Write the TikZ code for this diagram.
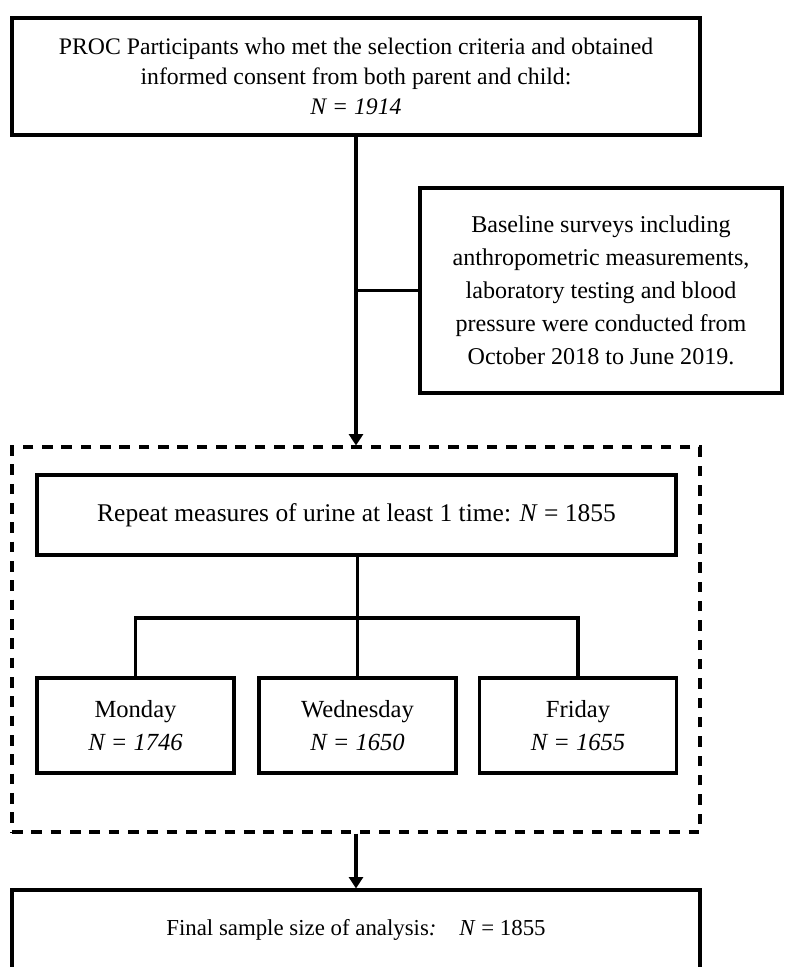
\documentclass[tikz,border=0pt]{standalone}
\usepackage{fontspec}
\setmainfont{Liberation Serif}
\usetikzlibrary{arrows.meta, positioning}

\begin{document}
\begin{tikzpicture}[
    x=0.02cm, y=-0.02cm,
    base/.style={rectangle, draw, line width=1.8pt, align=center, inner sep=0pt, font=\fontsize{13.5}{17}\selectfont},
    wide/.style={base, minimum width=13.76cm, minimum height=1.6cm},
    side/.style={base, minimum width=7.24cm, minimum height=4.1cm, font=\fontsize{13.7}{18.7}\selectfont},
    day/.style={base, minimum width=3.94cm, minimum height=1.9cm, font=\fontsize{14}{19}\selectfont},
    % dashed frame round the repeat measures
    group/.style={rectangle, draw, line width=1.8pt, dash pattern=on 6pt off 5pt, minimum width=13.76cm, minimum height=7.7cm},
    conn/.style={line width=1.8pt},
    arrow/.style={conn, -{Triangle[length=6.5pt, width=8pt]}}
]
    \clip (0,0) rectangle (787,967);

    % --- Nodes ---
    \node[wide, minimum height=2.34cm] (proc) at (356,76.5) {PROC Participants who met the selection criteria and obtained\\ informed consent from both parent and child:\\ \textit{N = 1914}};

    \node[side] (base) at (601,290.5) {Baseline surveys including\\ anthropometric measurements,\\ laboratory testing and blood\\ pressure were conducted from\\ October 2018 to June 2019.};

    \node[group] (grp) at (356,639.5) {};

    \node[wide, minimum width=12.78cm, font=\fontsize{14.5}{17}\selectfont] (repeat) at (356.5,515) {Repeat measures of urine at least 1 time: \textit{N} = 1855};

    % Days
    \node[day] (mon) at (135.5,725.5) {Monday\\ \textit{N = 1746}};
    \node[day] (wed) at (357.5,725.5) {Wednesday\\ \textit{N = 1650}};
    \node[day] (fri) at (578,725.5) {Friday\\ \textit{N = 1655}};

    \node[wide, font=\fontsize{13}{17}\selectfont] (final) at (356,930) {Final sample size of analysis\textit{:}\quad \textit{N} = 1855};

    \coordinate (bus) at (357.5,618);

    % --- Connections ---
    \draw[arrow] (proc.south) -- (grp.north);
    \draw[conn] (proc.south |- base.west) -- (base.west);

    \draw[conn] (repeat.south -| bus) -- (bus);
    \draw[conn] (mon.north) |- (bus) -| (fri.north);
    \draw[conn] (bus) -- (wed.north);

    \draw[arrow] (grp.south) -- (final.north);

\end{tikzpicture}
\end{document}
